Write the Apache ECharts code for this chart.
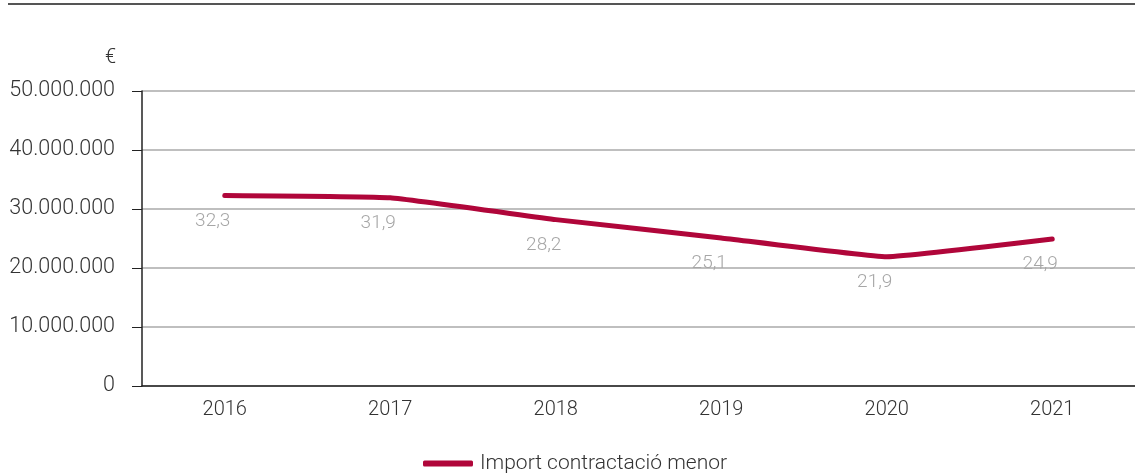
<!DOCTYPE html>
<html>
<head>
<meta charset="utf-8">
<script src="https://cdn.jsdelivr.net/npm/echarts@6/dist/echarts.min.js"></script>
<style>
  html, body { margin: 0; padding: 0; background: #fff; }
  #chart { width: 1135px; height: 475px; }
</style>
</head>
<body>
<div id="chart"></div>
<script>
// dades
var years = ["2016", "2017", "2018", "2019", "2020", "2021"];
var importMenor = [32300000, 31900000, 28200000, 25100000, 21900000, 24900000];
var seriesName = "Import contractació menor";

var FONT = "Roboto";

function milers(v) {
  // 50000000 -> 50.000.000
  return String(v).replace(/\B(?=(\d{3})+(?!\d))/g, ".");
}

var mychart = echarts.init(document.getElementById("chart"));
var option = {
  color: ["#b0063a"],
  textStyle: { fontFamily: FONT },
  graphic: [
    {
      type: "line",
      shape: { x1: 8, y1: 4, x2: 1135, y2: 4 },
      style: { stroke: "#555", lineWidth: 2 },
    },
  ],
  grid: {
    left: 142,
    right: -7,
    top: 91,
    bottom: 89,
  },
  legend: {
    top: 448,
    left: 418,
    icon: "roundRect",
    itemWidth: 50,
    itemHeight: 6,
    itemGap: 10,
    textStyle: {
      color: "#333",
      fontSize: 21,
      fontWeight: 300,
      fontFamily: FONT,
      padding: [0, 0, 0, 2],
    },
    data: [seriesName],
  },
  xAxis: {
    type: "category",
    data: years,
    boundaryGap: true,
    axisLine: { lineStyle: { color: "#222", width: 1.5 } },
    axisTick: { length: 8, lineStyle: { color: "#222" } },
    axisLabel: {
      color: "#333",
      fontSize: 20,
      fontWeight: 300,
      margin: 14,
    },
  },
  yAxis: {
    type: "value",
    min: 0,
    max: 50000000,
    interval: 10000000,
    name: "€",
    nameLocation: "end",
    nameGap: 23,
    nameTextStyle: {
      color: "#333",
      fontSize: 20,
      fontWeight: 300,
      align: "right",
      padding: [0, 26, 0, 0],
    },
    axisLine: { show: true, lineStyle: { color: "#222", width: 1.5 } },
    axisTick: { show: true, length: 10, lineStyle: { color: "#222" } },
    axisLabel: {
      color: "#333",
      fontSize: 21.5,
      fontWeight: 300,
      margin: 27,
      formatter: milers,
    },
    splitLine: { lineStyle: { color: "#aaa", width: 1.5 } },
  },
  series: [
    {
      name: seriesName,
      type: "line",
      data: importMenor,
      symbol: "circle",
      symbolSize: 0.1,
      showSymbol: true,
      smooth: 0.1,
      lineStyle: { width: 5, cap: "round", join: "round" },
      label: {
        show: true,
        position: "bottom",
        distance: 12,
        offset: [-12, 4],
        color: "#a6a6a6",
        fontSize: 19,
        fontWeight: 300,
        formatter: function (p) {
          return (p.value / 1000000).toFixed(1).replace(".", ",");
        },
      },
    },
  ],
};
mychart.setOption(option);
</script>
</body>
</html>
